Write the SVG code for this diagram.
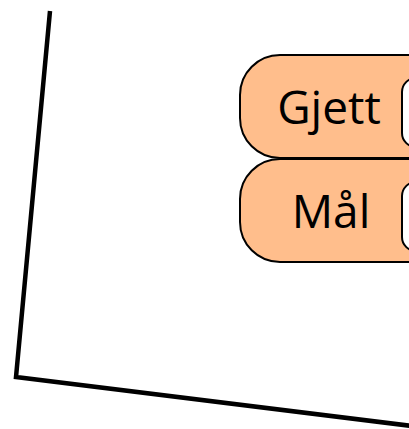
<svg xmlns="http://www.w3.org/2000/svg" width="409" height="429" viewBox="0 0 409 429">
  <style>
    .pill { fill: #FFBE8C; stroke: #000; stroke-width: 2; }
    .slot { fill: #FFFFFF; stroke: #000; stroke-width: 2; }
    .label { font-family: "Open Sans", "DejaVu Sans", sans-serif; font-size: 46px; fill: #000; text-anchor: middle; }
    .frame { fill: none; stroke: #000; stroke-width: 4.5; }
  </style>
  <g id="connectors">
    <polyline class="frame" points="50,11 16,377 420,427"/>
  </g>
  <g id="node-gjett">
    <rect class="pill" x="240" y="55" width="240" height="103" rx="40" ry="40"/>
    <rect class="slot" x="402" y="78" width="60" height="69" rx="14" ry="14"/>
    <text class="label" x="329" y="124">Gjett</text>
  </g>
  <g id="node-maal">
    <rect class="pill" x="240" y="159" width="240" height="103" rx="40" ry="40"/>
    <rect class="slot" x="402" y="182" width="60" height="69" rx="14" ry="14"/>
    <text class="label" x="331" y="228">Mål</text>
  </g>
</svg>
